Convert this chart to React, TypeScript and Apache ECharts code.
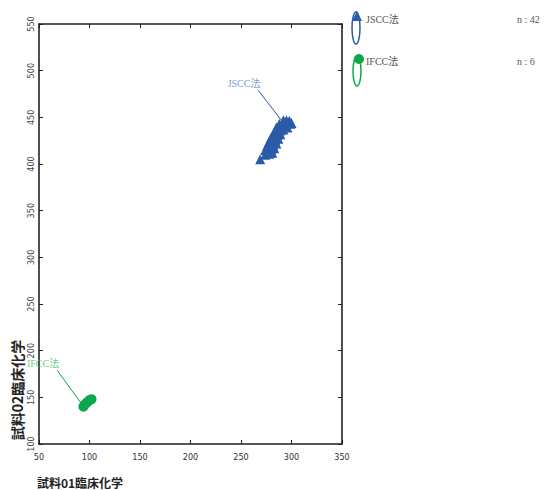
import React, { useEffect, useRef } from "react";
import * as echarts from "echarts";

const xTicks = [50, 100, 150, 200, 250, 300, 350];
const yTicks = [100, 150, 200, 250, 300, 350, 400, 450, 500, 550];

const jsccPoints: number[][] = [
  [269, 405],
  [274, 410], [278, 411], [281, 412],
  [274, 415], [277, 414], [280, 416], [283, 417],
  [276, 420], [279, 419], [282, 421], [285, 422],
  [278, 424], [281, 425], [284, 426], [287, 427],
  [280, 429], [283, 430], [286, 431], [289, 432],
  [283, 434], [286, 435], [289, 436], [292, 437],
  [285, 439], [288, 438], [291, 440], [294, 441], [296, 439],
  [288, 443], [291, 444], [294, 443], [297, 445], [299, 443],
  [292, 447], [295, 447], [298, 446], [300, 444],
  [290, 441], [287, 433], [284, 429], [281, 422],
];
const ifccPoints: number[][] = [
  [94, 140], [95, 142], [97, 144], [98, 145], [100, 147], [102, 148],
];
const jsccLabelPos = [253, 486];
const jsccLeader = [[267, 479], [293.5, 442]];
const ifccLabelPos = [54, 186];
const ifccLeader = [[68, 179], [93.5, 141]];

const seriesNames = ["JSCC法", "IFCC法"];
const seriesCounts = ["n : 42", "n : 6"];
const xName = "試料01臨床化学";
const yName = "試料02臨床化学";

const BLUE = "#2b5aa8";
const GREEN = "#0aa84a";
const NARROW = "'Liberation Sans Narrow', 'DejaVu Sans Condensed', sans-serif";
const SERIF = "'Liberation Serif', 'Noto Sans CJK JP', serif";

export default function App() {
  const ref = useRef<HTMLDivElement>(null);
  useEffect(() => {
    document.body.style.margin = "0";
    if (!ref.current) return;
    const chart = echarts.init(ref.current, undefined, { renderer: "svg" });
    const axisLine = { show: true, lineStyle: { color: "#222", width: 1.6 } };
    const tick = { show: true, inside: true, length: 4, lineStyle: { color: "#222", width: 1 } };
    const xBase = { type: "value", min: xTicks[0], max: xTicks[xTicks.length - 1], interval: 50, splitLine: { show: false }, axisLine, axisTick: tick };
    const yBase = { type: "value", min: yTicks[0], max: yTicks[yTicks.length - 1], interval: 50, splitLine: { show: false }, axisLine, axisTick: tick };
    chart.setOption({
      animation: false,
      grid: { left: 39, right: 215, top: 24, bottom: 46 },
      xAxis: [
        {
          ...xBase,
          position: "bottom",
          axisLabel: { color: "#333", fontSize: 9, fontFamily: NARROW, margin: 8 },
        },
        { ...xBase, position: "top", axisLabel: { show: false } },
      ],
      yAxis: [
        {
          ...yBase,
          position: "left",
          axisLabel: { color: "#444", fontSize: 9, fontFamily: NARROW, rotate: 90, margin: 4 },
        },
        { ...yBase, position: "right", axisLabel: { show: false } },
      ],
      series: [
        {
          name: seriesNames[0],
          type: "scatter",
          symbol: "triangle",
          symbolSize: 10,
          itemStyle: { color: BLUE, opacity: 1 },
          data: jsccPoints,
          z: 3,
        },
        {
          name: seriesNames[1],
          type: "scatter",
          symbol: "circle",
          symbolSize: 10,
          itemStyle: { color: GREEN, opacity: 1 },
          data: ifccPoints,
          z: 3,
        },
        {
          type: "line",
          data: jsccLeader,
          symbol: "none",
          lineStyle: { color: BLUE, width: 1 },
          silent: true,
          z: 2,
        },
        {
          type: "line",
          data: ifccLeader,
          symbol: "none",
          lineStyle: { color: GREEN, width: 1 },
          silent: true,
          z: 2,
        },
        {
          type: "scatter",
          symbolSize: 0,
          data: [jsccLabelPos],
          label: { show: true, position: "inside", formatter: seriesNames[0], color: "#5d7cc0", fontSize: 10, fontFamily: SERIF },
          silent: true,
        },
        {
          type: "scatter",
          symbolSize: 0,
          data: [ifccLabelPos],
          label: { show: true, position: "inside", formatter: seriesNames[1], color: "#3cbf6a", fontSize: 10, fontFamily: SERIF },
          silent: true,
        },
      ],
      graphic: [
        {
          type: "text",
          x: 80,
          y: 482,
          style: {
            text: xName,
            font: "bold 12px 'Noto Sans CJK JP'",
            fill: "#222",
            align: "center",
            verticalAlign: "middle",
          },
        },
        {
          type: "text",
          x: 17,
          y: 390,
          rotation: Math.PI / 2,
          style: {
            text: yName,
            font: "bold 14px 'Noto Sans CJK JP'",
            fill: "#222",
            align: "center",
            verticalAlign: "middle",
          },
        },
        // legend: JSCC
        { type: "ellipse", shape: { cx: 356, cy: 28, rx: 4, ry: 16 }, style: { fill: "none", stroke: BLUE, lineWidth: 1.5 } },
        { type: "polygon", shape: { points: [[357, 11], [352, 21], [362, 21]] }, style: { fill: BLUE } },
        { type: "text", x: 366, y: 19, style: { text: seriesNames[0], font: "10px " + SERIF, fill: "#555", verticalAlign: "middle" } },
        { type: "text", x: 517, y: 19, style: { text: seriesCounts[0], font: "10px " + SERIF, fill: "#555", verticalAlign: "middle" } },
        // legend: IFCC
        { type: "ellipse", shape: { cx: 357, cy: 71, rx: 4, ry: 15 }, style: { fill: "none", stroke: GREEN, lineWidth: 1.5 } },
        { type: "circle", shape: { cx: 359, cy: 59, r: 5 }, style: { fill: GREEN } },
        { type: "text", x: 366, y: 61, style: { text: seriesNames[1], font: "10px " + SERIF, fill: "#555", verticalAlign: "middle" } },
        { type: "text", x: 517, y: 61, style: { text: seriesCounts[1], font: "10px " + SERIF, fill: "#555", verticalAlign: "middle" } },
      ],
    });
    return () => chart.dispose();
  }, []);
  return <div ref={ref} style={{ width: 557, height: 490 }} />;
}
